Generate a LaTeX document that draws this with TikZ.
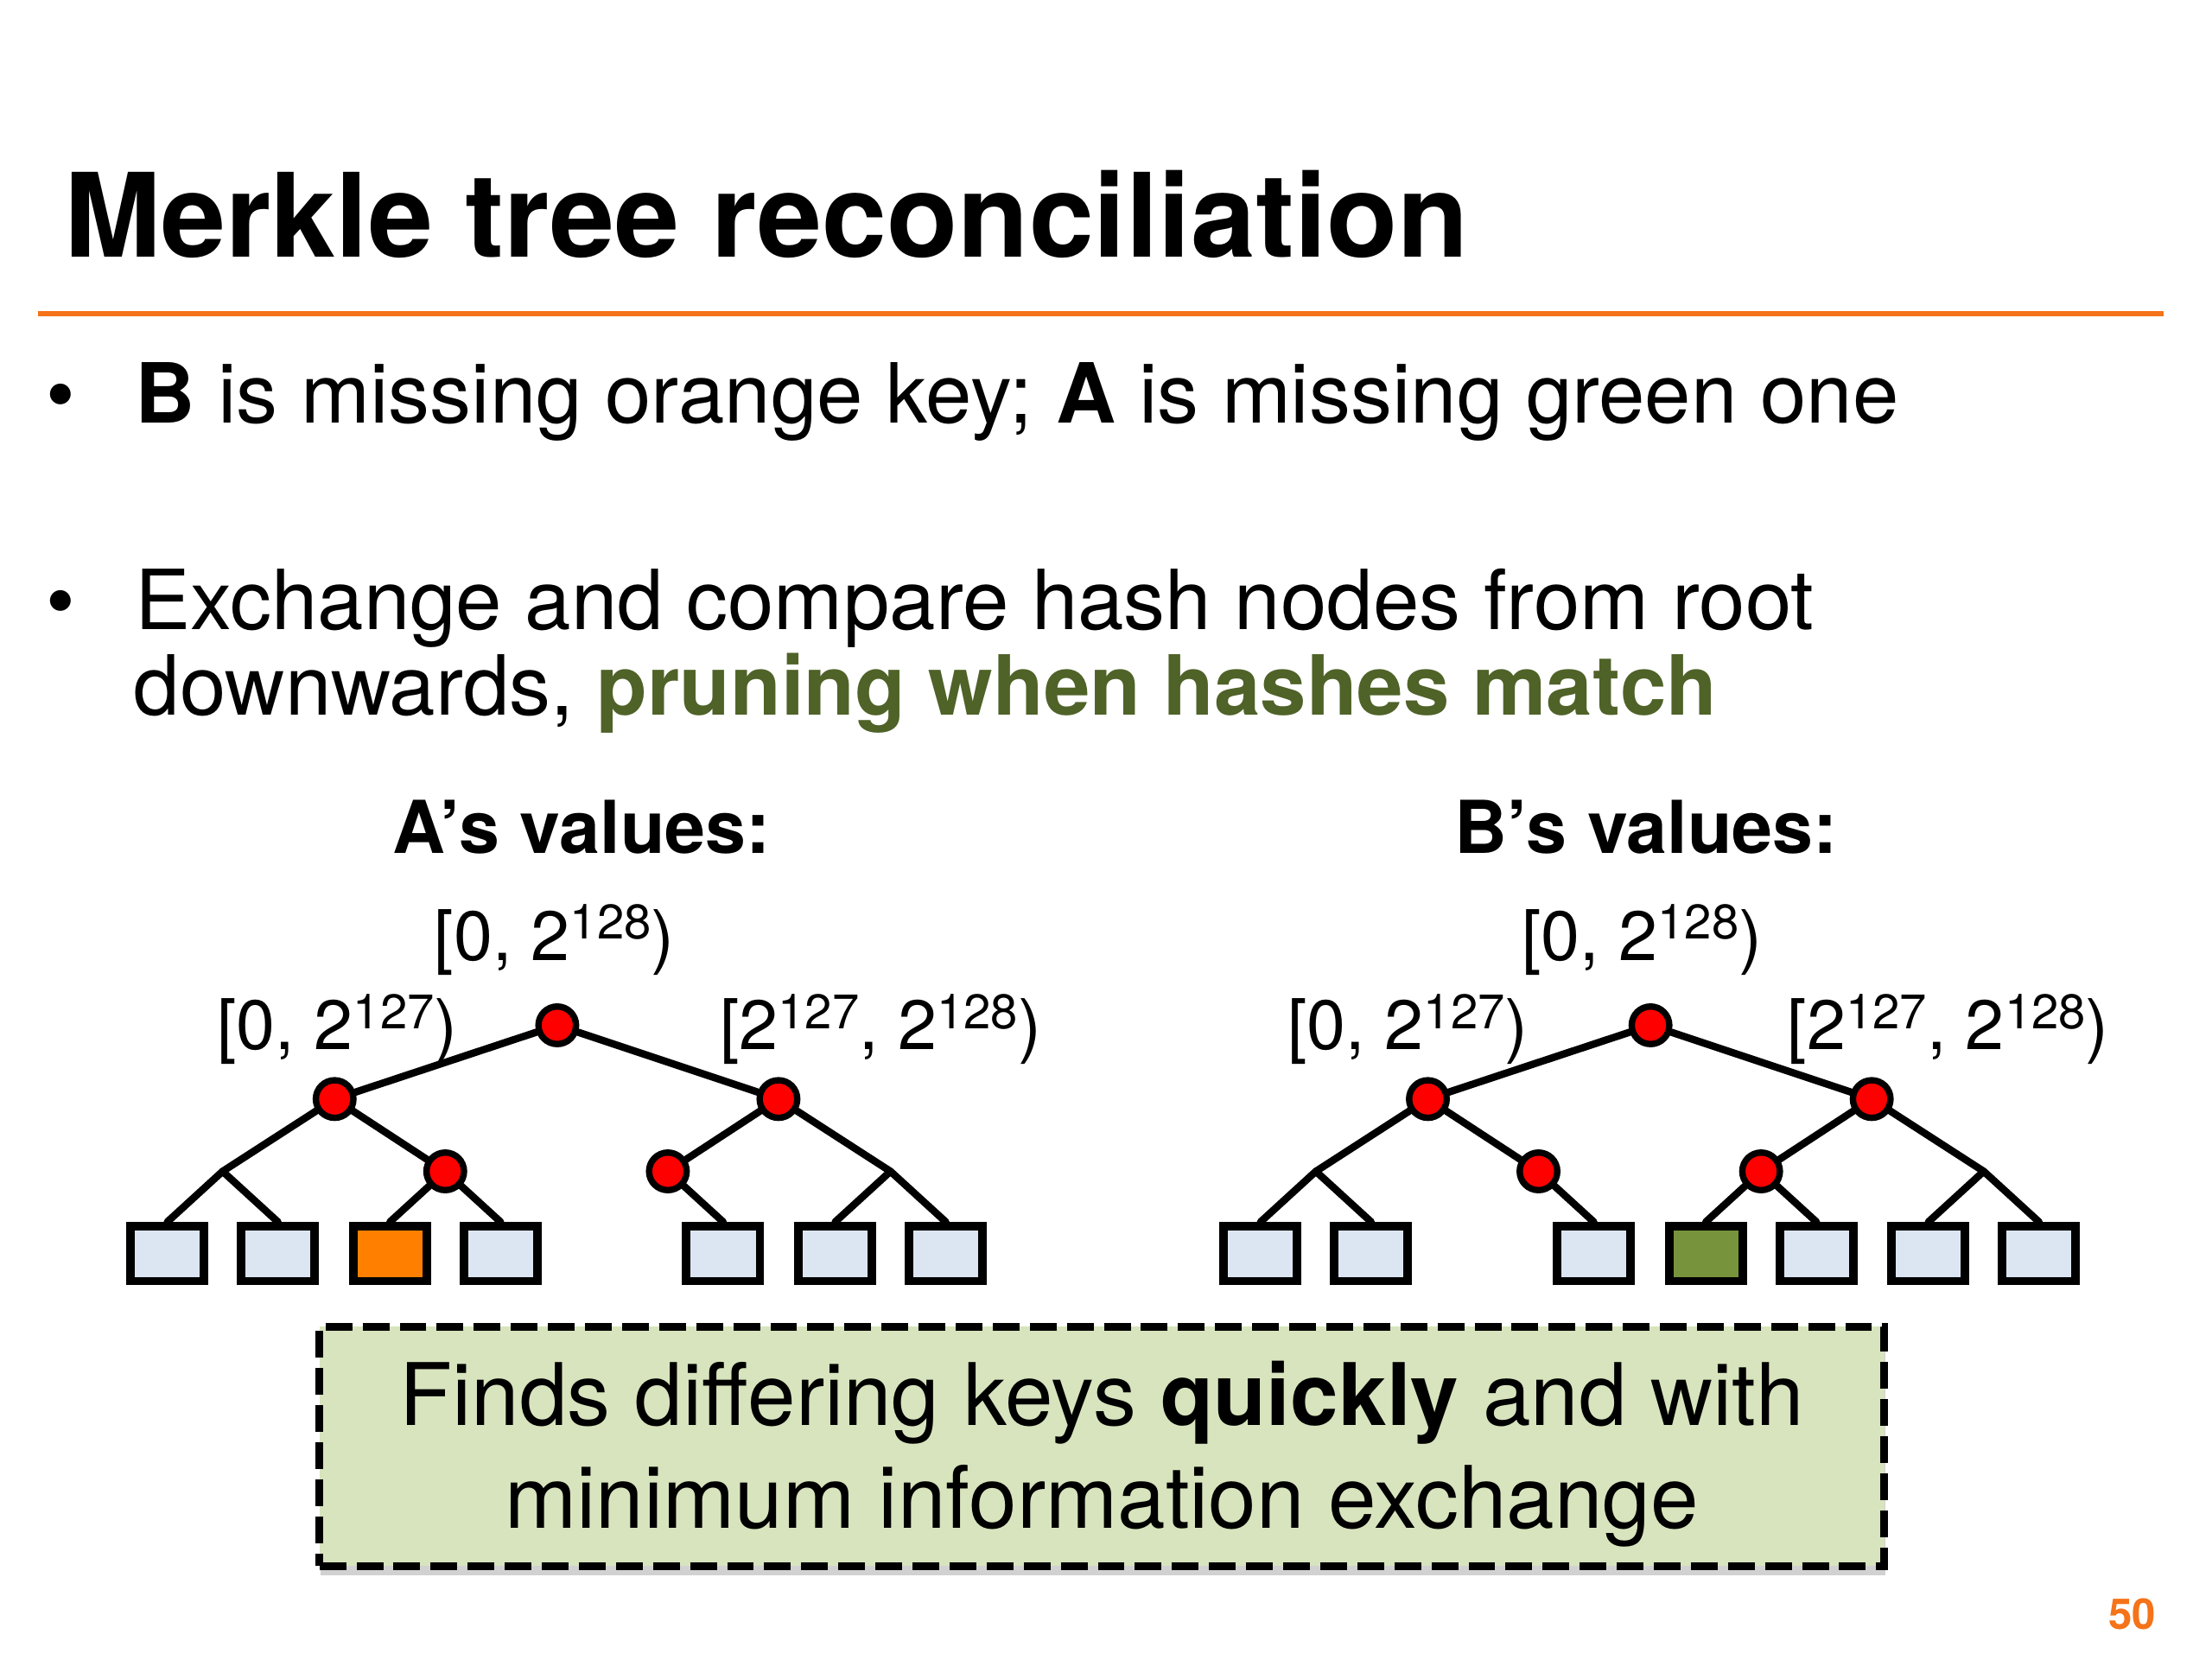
\documentclass[tikz,border=0pt]{standalone}
\usepackage{fontspec}
\setmainfont{TeX Gyre Heros}
\usepackage{xcolor}
\usetikzlibrary{positioning,backgrounds,shadows}

\definecolor{slideorange}{RGB}{245,115,25}
\definecolor{keyorange}{RGB}{255,128,0}
\definecolor{keygreen}{RGB}{119,147,60}
\definecolor{textgreen}{RGB}{79,98,40}
\definecolor{keyfill}{RGB}{220,230,242}
\definecolor{notefill}{RGB}{215,228,189}

\newcommand\expo[1]{\raisebox{0.3em}{\fontsize{16}{16}\selectfont #1}}

\begin{document}
\begin{tikzpicture}[
        x=0.01641cm, y=-0.01641cm,
        txt/.style={inner sep=0pt,anchor=base west},
        body/.style={txt,font=\fontsize{27.3}{28}\selectfont},
        spanlbl/.style={inner sep=0pt,anchor=base,font=\fontsize{23}{23}\selectfont},
        owner/.style={inner sep=0pt,anchor=base,font=\fontsize{24}{24}\selectfont\bfseries},
        hashdot/.style={circle,draw=black,fill=red,line width=2.1pt,minimum size=4.35mm,inner sep=0pt},
        leafkey/.style={rectangle,draw=black,fill=keyfill,line width=2.8pt,minimum width=8.5mm,minimum height=6.35mm,inner sep=0pt},
        link/.style={line width=2.4pt,black,line cap=round,line join=round},
        notebox/.style={rectangle,draw=black,fill=notefill,line width=2.6pt,dash pattern=on 8.8pt off 3.4pt,
            minimum width=18.1cm,minimum height=2.77cm,
            drop shadow={shadow xshift=0.5pt,shadow yshift=-3pt,opacity=0.3,fill=black!60}},
        notetext/.style={inner sep=0pt,align=center,font=\fontsize{28.4}{33.9}\selectfont}
    ]
        \useasboundingbox (0,0) rectangle (1560,1170);

        % title and rule
        \node[txt,font=\fontsize{38.3}{38.3}\selectfont\bfseries] (title) at (45,181) {Merkle tree reconciliation};
        \draw[slideorange,line width=1.8pt] (27,221) -- (1526,221);

        % bullets
        \node[body,anchor=base] (dot1) at (43,298) {\textbullet};
        \node[body] (item1) at (95,298) {\textbf{B} is missing orange key; \textbf{A} is missing green one};
        \node[body,anchor=base] (dot2) at (43,444) {\textbullet};
        \node[body] (item2) at (95,444) {Exchange and compare hash nodes from root};
        \node[body] (item2b) at (94,504) {downwards, \textcolor{textgreen}{\textbf{pruning when hashes match}}};

        % A's tree
        \node[owner] (Aname) at (410,602) {A’s values:};
        \node[spanlbl] (Arootlbl) at (391,677) {[0, 2\expo{128})};
        \node[spanlbl] (Allbl) at (238,740) {[0, 2\expo{127})};
        \node[spanlbl] (Arlbl) at (621,740) {[2\expo{127}, 2\expo{128})};

        \node[hashdot] (Aroot) at (393,723) {};
        \node[hashdot] (Al) at (236,775) {};
        \node[hashdot] (Ar) at (549,775) {};
        \coordinate (Alj) at (157,826);
        \node[hashdot] (Ald) at (314,826) {};
        \node[hashdot] (Ard) at (471,826) {};
        \coordinate (Arj) at (628,826);
        \node[leafkey] (Ak1) at (118,884) {};
        \node[leafkey] (Ak2) at (196,884) {};
        \node[leafkey,fill=keyorange] (Ak3) at (275,884) {};
        \node[leafkey] (Ak4) at (353,884) {};
        \node[leafkey] (Ak6) at (510,884) {};
        \node[leafkey] (Ak7) at (589,884) {};
        \node[leafkey] (Ak8) at (667,884) {};

        \draw[link] (Aroot) -- (Al);
        \draw[link] (Aroot) -- (Ar);
        \draw[link] (Al) -- (Alj) -- (Ak1.north);
        \draw[link] (Alj) -- (Ak2.north);
        \draw[link] (Al) -- (Ald);
        \draw[link] (Ald) -- (Ak3.north);
        \draw[link] (Ald) -- (Ak4.north);
        \draw[link] (Ar) -- (Ard);
        \draw[link] (Ard) -- (Ak6.north);
        \draw[link] (Ar) -- (Arj) -- (Ak7.north);
        \draw[link] (Arj) -- (Ak8.north);

        % B's tree
        \node[owner] (Bname) at (1161,602) {B’s values:};
        \node[spanlbl] (Brootlbl) at (1158,677) {[0, 2\expo{128})};
        \node[spanlbl] (Bllbl) at (993,740) {[0, 2\expo{127})};
        \node[spanlbl] (Brlbl) at (1374,740) {[2\expo{127}, 2\expo{128})};

        \node[hashdot] (Broot) at (1164,723) {};
        \node[hashdot] (Bl) at (1007,775) {};
        \node[hashdot] (Br) at (1320,775) {};
        \coordinate (Blj) at (928,826);
        \node[hashdot] (Bld) at (1085,826) {};
        \node[hashdot] (Brd) at (1242,826) {};
        \coordinate (Brj) at (1399,826);
        \node[leafkey] (Bk1) at (889,884) {};
        \node[leafkey] (Bk2) at (967,884) {};
        \node[leafkey] (Bk4) at (1124,884) {};
        \node[leafkey,fill=keygreen] (Bk5) at (1203,884) {};
        \node[leafkey] (Bk6) at (1281,884) {};
        \node[leafkey] (Bk7) at (1360,884) {};
        \node[leafkey] (Bk8) at (1438,884) {};

        \draw[link] (Broot) -- (Bl);
        \draw[link] (Broot) -- (Br);
        \draw[link] (Bl) -- (Blj) -- (Bk1.north);
        \draw[link] (Blj) -- (Bk2.north);
        \draw[link] (Bl) -- (Bld);
        \draw[link] (Bld) -- (Bk4.north);
        \draw[link] (Br) -- (Brd);
        \draw[link] (Brd) -- (Bk5.north);
        \draw[link] (Brd) -- (Bk6.north);
        \draw[link] (Br) -- (Brj) -- (Bk7.north);
        \draw[link] (Brj) -- (Bk8.north);

        % summary box and page number
        \node[notebox] (note) at (777,1020) {};
        \node[notetext] (notetxt) at ([yshift=-2.6pt]note.center) {Finds differing keys \textbf{quickly} and with\\minimum information exchange};
        \node[inner sep=0pt,anchor=base east,font=\fontsize{14}{14}\selectfont\bfseries,text=slideorange] (pagenum) at (1521,1149) {50};
\end{tikzpicture}
\end{document}
